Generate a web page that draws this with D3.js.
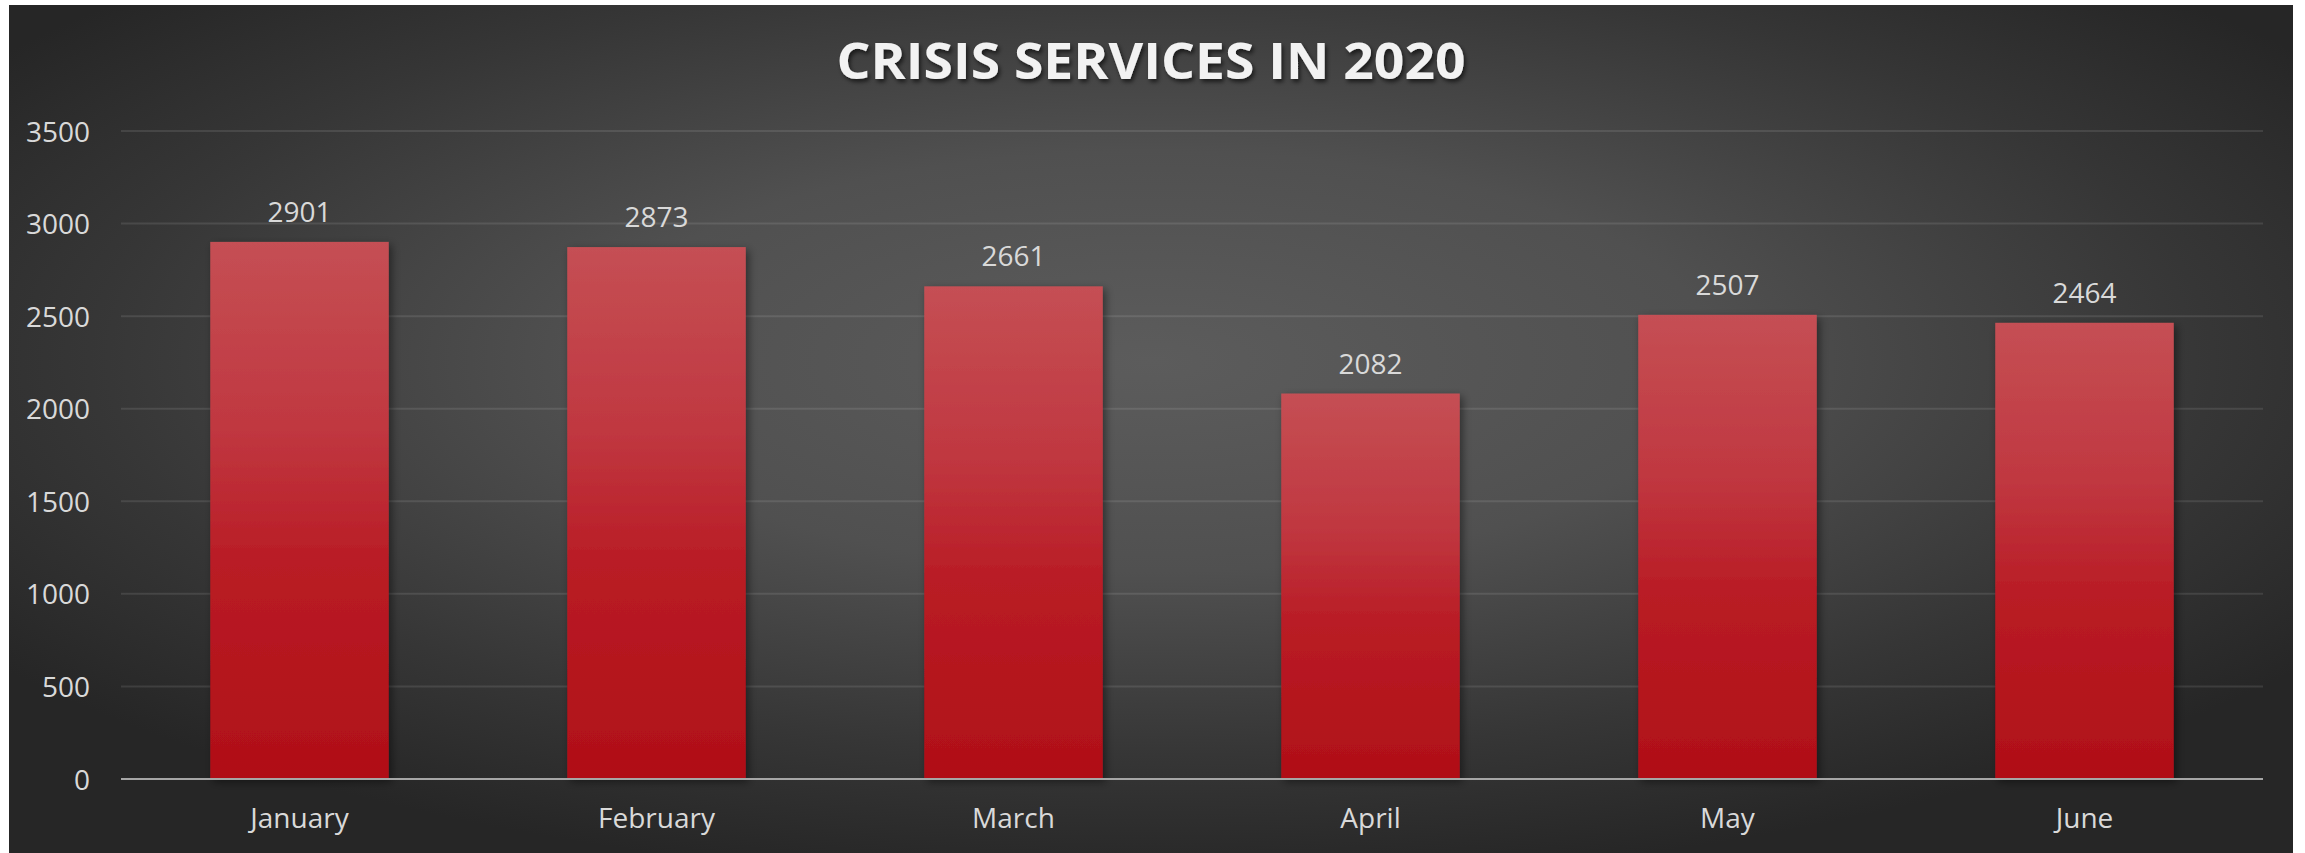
<!DOCTYPE html>
<html>
<head>
<meta charset="utf-8">
<script src="https://cdn.jsdelivr.net/npm/d3@7"></script>
<style>
  html, body { margin: 0; padding: 0; background: #ffffff; }
  svg { display: block; }
  text { font-family: "Open Sans", "DejaVu Sans", sans-serif; }
</style>
</head>
<body>
<svg id="chart" width="2305" height="853"></svg>
<script>
// Monthly crisis service counts, first half of 2020
const months = ["January", "February", "March", "April", "May", "June"];
const services = [2901, 2873, 2661, 2082, 2507, 2464];
const yTicks = [0, 500, 1000, 1500, 2000, 2500, 3000, 3500];
const chartTitle = "CRISIS SERVICES IN 2020";

const W = 2305, H = 853;
const frame = { x: 9, y: 5, w: 2284, h: 848 };
const plot = { left: 121, right: 2263, top: 131, bottom: 779 };

const svg = d3.select("#chart");
const defs = svg.append("defs");

// Dark radial backdrop, lightest just above the middle
const bg = defs.append("radialGradient")
  .attr("id", "bgGrad")
  .attr("cx", 0.5).attr("cy", 0.42).attr("r", 0.62);
bg.append("stop").attr("offset", "0%").attr("stop-color", "#5c5c5c");
bg.append("stop").attr("offset", "40%").attr("stop-color", "#505050");
bg.append("stop").attr("offset", "75%").attr("stop-color", "#363636");
bg.append("stop").attr("offset", "100%").attr("stop-color", "#262626");

// Red bar fill, lighter at the top
const barGrad = defs.append("linearGradient")
  .attr("id", "barGrad")
  .attr("x1", 0).attr("y1", 0).attr("x2", 0).attr("y2", 1);
barGrad.append("stop").attr("offset", "0%").attr("stop-color", "#c54f54");
barGrad.append("stop").attr("offset", "35%").attr("stop-color", "#c03740");
barGrad.append("stop").attr("offset", "60%").attr("stop-color", "#b91c25");
barGrad.append("stop").attr("offset", "100%").attr("stop-color", "#b00f17");

const barShadow = defs.append("filter").attr("id", "barShadow")
  .attr("x", "-10%").attr("y", "-5%").attr("width", "125%").attr("height", "112%");
barShadow.append("feDropShadow")
  .attr("dx", 3).attr("dy", 3).attr("stdDeviation", 4)
  .attr("flood-color", "#000").attr("flood-opacity", 0.45);

const titleShadow = defs.append("filter").attr("id", "titleShadow")
  .attr("x", "-5%").attr("y", "-20%").attr("width", "110%").attr("height", "150%");
titleShadow.append("feDropShadow")
  .attr("dx", 2).attr("dy", 3).attr("stdDeviation", 2)
  .attr("flood-color", "#000").attr("flood-opacity", 0.6);

svg.append("rect")
  .attr("x", frame.x).attr("y", frame.y)
  .attr("width", frame.w).attr("height", frame.h)
  .attr("fill", "url(#bgGrad)");

const x = d3.scaleBand()
  .domain(months)
  .range([plot.left, plot.right])
  .paddingInner(0.5)
  .paddingOuter(0.25);

const y = d3.scaleLinear()
  .domain([0, 3500])
  .range([plot.bottom, plot.top]);

// Horizontal gridlines
svg.append("g")
  .selectAll("line")
  .data(yTicks.filter(d => d > 0))
  .join("line")
  .attr("x1", plot.left).attr("x2", plot.right)
  .attr("y1", d => y(d)).attr("y2", d => y(d))
  .attr("stroke", "#ffffff").attr("stroke-opacity", 0.1)
  .attr("stroke-width", 2);

// Y axis labels
const yAxis = svg.append("g")
  .attr("transform", `translate(${plot.left - 31},0)`)
  .call(d3.axisLeft(y).tickValues(yTicks).tickSize(0).tickPadding(0).tickFormat(d3.format("d")));
yAxis.select(".domain").remove();
yAxis.selectAll("text")
  .attr("fill", "#d9d9d9")
  .attr("font-size", 28)
  .attr("dy", "0.36em")
  .style("font-family", "'Open Sans', sans-serif");

// Bars
svg.append("g")
  .selectAll("rect")
  .data(months)
  .join("rect")
  .attr("x", d => x(d))
  .attr("y", (d, i) => y(services[i]))
  .attr("width", x.bandwidth())
  .attr("height", (d, i) => y(0) - y(services[i]))
  .attr("fill", "url(#barGrad)")
  .attr("filter", "url(#barShadow)");

// Baseline
svg.append("line")
  .attr("x1", plot.left).attr("x2", plot.right)
  .attr("y1", y(0)).attr("y2", y(0))
  .attr("stroke", "#a6a6a6").attr("stroke-width", 2);

// Value labels
svg.append("g")
  .selectAll("text")
  .data(months)
  .join("text")
  .attr("x", d => x(d) + x.bandwidth() / 2)
  .attr("y", (d, i) => y(services[i]) - 20)
  .attr("text-anchor", "middle")
  .attr("fill", "#d9d9d9")
  .attr("font-size", 28)
  .text((d, i) => services[i]);

// X axis labels
const xAxis = svg.append("g")
  .attr("transform", `translate(0,${plot.bottom})`)
  .call(d3.axisBottom(x).tickSize(0).tickPadding(0));
xAxis.select(".domain").remove();
xAxis.selectAll("text")
  .attr("fill", "#d9d9d9")
  .attr("font-size", 28)
  .attr("y", 49)
  .attr("dy", 0)
  .style("font-family", "'Open Sans', sans-serif");

// Title
svg.append("text")
  .attr("x", (frame.x + frame.x + frame.w) / 2)
  .attr("y", 79)
  .attr("text-anchor", "middle")
  .attr("fill", "#f2f2f2")
  .attr("font-size", 50)
  .attr("font-weight", "bold")
  .attr("textLength", 629)
  .attr("lengthAdjust", "spacingAndGlyphs")
  .attr("filter", "url(#titleShadow)")
  .text(chartTitle);
</script>
</body>
</html>
